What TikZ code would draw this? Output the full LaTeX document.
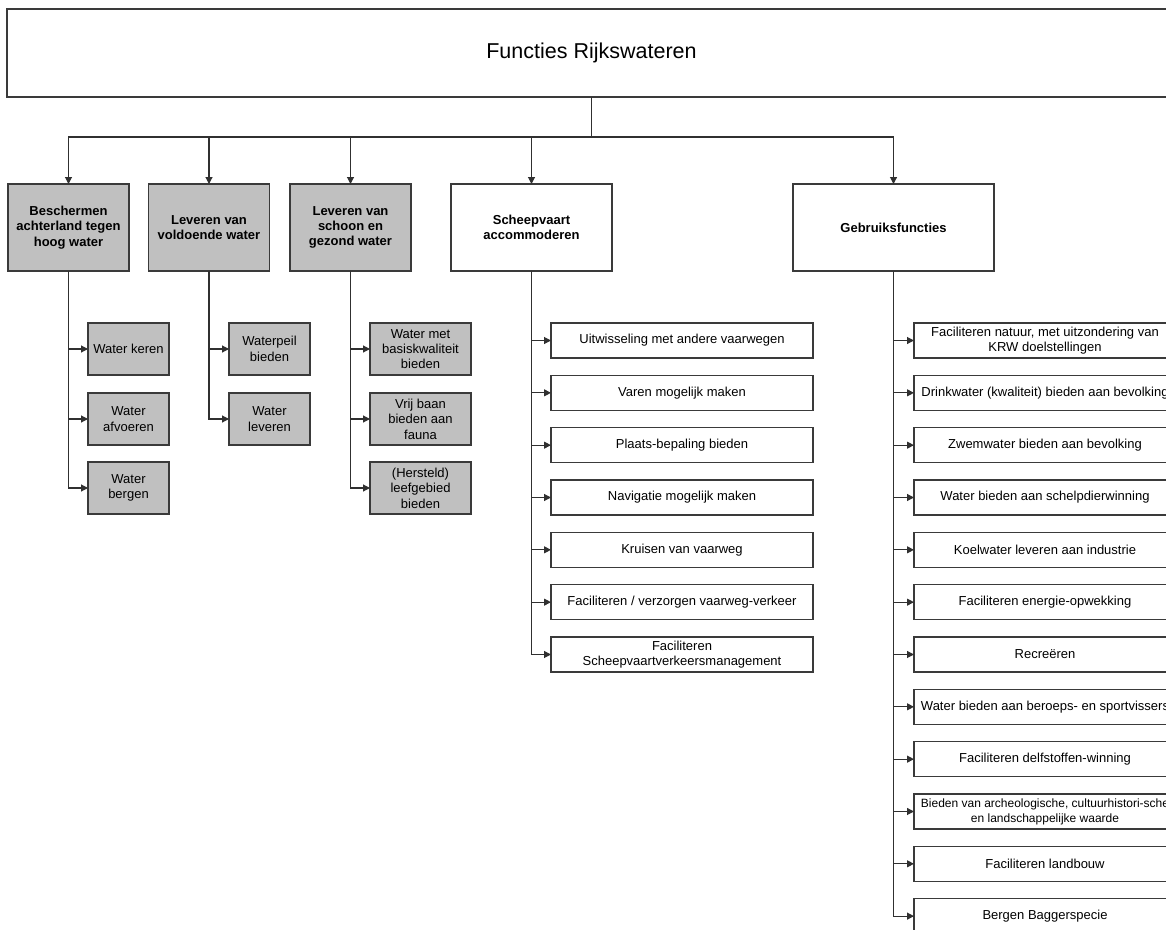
\documentclass[tikz,border=0pt]{standalone}
\usepackage{fontspec}
\setmainfont{Liberation Sans}
\usetikzlibrary{arrows.meta}
\definecolor{linec}{HTML}{303030}
\definecolor{boxline}{HTML}{3A3A3A}
\definecolor{grayfill}{HTML}{C0C0C0}
\begin{document}
\begin{tikzpicture}[x=1pt,y=-1pt,
  conn/.style={draw=linec, line width=1.1pt},
  arr/.style={conn, -{Triangle[length=7pt,width=7pt]}},
  basebox/.style={draw=boxline, line width=1.1pt, anchor=north west, inner sep=1pt, outer sep=0pt, align=center},
  topbox/.style={basebox, fill=white, font=\fontsize{21.5}{25}\selectfont},
  headgray/.style={basebox, fill=grayfill, font=\bfseries\fontsize{13}{15.3}\selectfont, minimum height=87pt},
  headwhite/.style={basebox, fill=white, font=\bfseries\fontsize{13}{15.3}\selectfont, minimum height=87pt},
  subgray/.style={basebox, fill=grayfill, font=\fontsize{13}{15.4}\selectfont, minimum height=52pt},
  subwhite/.style={basebox, fill=white, minimum height=35pt, minimum width=262pt}
]
\clip (0,0) rectangle (1166,929);
\fill[white] (0,0) rectangle (1166,929);

% title
\node[topbox, minimum width=1169pt, minimum height=88pt] (T) at (7,9) {Functies Rijkswateren};
\coordinate (hub) at (591.5,137);

% level 1
\node[headgray, minimum width=121pt] (B1) at (8,184) {Beschermen\\achterland tegen\\hoog water};
\node[headgray, minimum width=121pt] (B2) at (148.5,184) {Leveren van\\voldoende water};
\node[headgray, minimum width=121pt] (B3) at (290,184) {Leveren van\\schoon en\\gezond water};
\node[headwhite, minimum width=161pt] (B4) at (451,184) {Scheepvaart\\accommoderen};
\node[headwhite, minimum width=201pt] (B5) at (793,184) {Gebruiksfuncties};

\draw[conn] (T.south) -- (hub);
\foreach \b in {B1,B2,B3,B4,B5}{
  \draw[arr] (hub) -| (\b.north);
}

% gray children
\node[subgray, minimum width=81pt] (A1) at (88,323) {Water keren};
\node[subgray, minimum width=81pt] (A2) at (88,393) {Water\\afvoeren};
\node[subgray, minimum width=81pt] (A3) at (88,462) {Water\\bergen};
\node[subgray, minimum width=81pt] (C1) at (229,323) {Waterpeil\\bieden};
\node[subgray, minimum width=81pt] (C2) at (229,393) {Water\\leveren};
\node[subgray, minimum width=101pt] (D1) at (370,323) {Water met\\basiskwaliteit\\bieden};
\node[subgray, minimum width=101pt] (D2) at (370,393) {Vrij baan\\bieden aan\\fauna};
\node[subgray, minimum width=101pt] (D3) at (370,462) {(Hersteld)\\leefgebied\\bieden};

\foreach \c in {A1,A2,A3}{ \draw[arr] (B1.south) |- (\c.west); }
\foreach \c in {C1,C2}{ \draw[arr] (B2.south) |- (\c.west); }
\foreach \c in {D1,D2,D3}{ \draw[arr] (B3.south) |- (\c.west); }

% Scheepvaart children
\foreach \t [count=\i] in {
  {Uitwisseling met andere vaarwegen},
  {Varen mogelijk maken},
  {Plaats-bepaling bieden},
  {Navigatie mogelijk maken},
  {Kruisen van vaarweg},
  {Faciliteren / verzorgen vaarweg-verkeer},
  {Faciliteren\\Scheepvaartverkeersmanagement}}{
  \node[subwhite, font=\fontsize{13}{14.7}\selectfont] (S\i) at (551,{323+52.33*(\i-1)}) {\t};
  \draw[arr] (B4.south) |- (S\i.west);
}

% Gebruiksfuncties children
\foreach \t/\fs [count=\i] in {
  {Faciliteren natuur, met uitzondering van\\KRW doelstellingen}/13,
  {Drinkwater (kwaliteit) bieden aan bevolking}/13,
  {Zwemwater bieden aan bevolking}/13,
  {Water bieden aan schelpdierwinning}/13,
  {Koelwater leveren aan industrie}/13,
  {Faciliteren energie-opwekking}/13,
  {Recreëren}/13,
  {Water bieden aan beroeps- en sportvissers}/13,
  {Faciliteren delfstoffen-winning}/13,
  {Bieden van archeologische, cultuurhistori-sche\\en landschappelijke waarde}/12,
  {Faciliteren landbouw}/13,
  {Bergen Baggerspecie}/13}{
  \node[subwhite, font=\fontsize{\fs}{15}\selectfont] (G\i) at (914,{323+52.33*(\i-1)}) {\t};
  \draw[arr] (B5.south) |- (G\i.west);
}
\end{tikzpicture}
\end{document}
